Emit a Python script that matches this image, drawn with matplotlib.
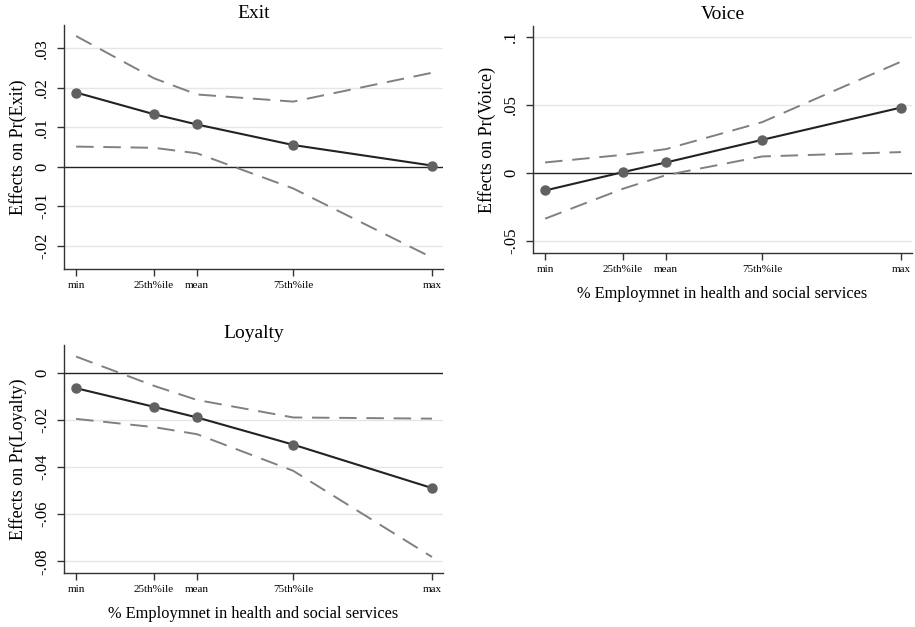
import matplotlib.pyplot as plt
import numpy as np

# x positions of the evaluation points (relative scale, min=0, max=1)
x_pos = [0.0, 0.219, 0.340, 0.610, 1.0]
x_labels = ['min', '25th%ile', 'mean', '75th%ile', 'max']

exit_eff = [0.0188, 0.0133, 0.0107, 0.0055, 0.0003]
exit_hi = [0.0331, 0.0224, 0.0183, 0.0165, 0.0238]
exit_lo = [0.0051, 0.0048, 0.0034, -0.0055, -0.0230]

voice_eff = [-0.0128, 0.0007, 0.0078, 0.0244, 0.0481]
voice_hi = [0.0078, 0.0134, 0.0176, 0.0374, 0.0818]
voice_lo = [-0.0335, -0.0115, -0.0015, 0.0122, 0.0154]

loyal_eff = [-0.0066, -0.0145, -0.0190, -0.0305, -0.0489]
loyal_hi = [0.0068, -0.0056, -0.0116, -0.0190, -0.0195]
loyal_lo = [-0.0196, -0.0231, -0.0261, -0.0416, -0.0781]

plt.rcParams['font.family'] = 'Liberation Serif'

W, H = 915, 627
fig = plt.figure(figsize=(W / 100, H / 100), dpi=100)


def box(l, t, r, b):
    return [l / W, 1 - b / H, (r - l) / W, (b - t) / H]


def fmt(v):
    s = ('%g' % v)
    return s.replace('0.', '.')


def panel(rect, title, ylab, eff, hi, lo, yticks, ylim, xlab=None):
    ax = fig.add_axes(rect)
    ax.set_xlim(-0.034, 1.031)
    ax.set_ylim(*ylim)
    for yv in yticks:
        if yv != 0:
            ax.axhline(yv, color='#e6e6e6', lw=1.0, zorder=0)
    ax.axhline(0, color='#222222', lw=1.0, zorder=1)
    ax.plot(x_pos, hi, color='#808080', lw=1.4, dashes=(9, 5), zorder=2)
    ax.plot(x_pos, lo, color='#808080', lw=1.4, dashes=(9, 5), zorder=2)
    ax.plot(x_pos, eff, color='#222222', lw=1.5, zorder=3)
    ax.plot(x_pos, eff, 'o', color='#616161', ms=6.5, zorder=4)
    ax.set_yticks(yticks)
    ax.set_yticklabels([fmt(v) for v in yticks], rotation=90, va='center', fontsize=12)
    ax.set_xticks(x_pos)
    ax.set_xticklabels(x_labels, fontsize=8)
    ax.tick_params(axis='both', direction='out', length=5, width=1, color='#333333')
    ax.tick_params(axis='x', pad=4)
    ax.tick_params(axis='y', pad=5)
    for s in ['top', 'right']:
        ax.spines[s].set_visible(False)
    for s in ['left', 'bottom']:
        ax.spines[s].set_color('#333333')
        ax.spines[s].set_linewidth(1.0)
    ax.set_title(title, fontsize=14, pad=5)
    ax.set_ylabel(ylab, fontsize=13, labelpad=5)
    if xlab:
        ax.set_xlabel(xlab, fontsize=11.8, labelpad=8)
    return ax


panel(box(64, 25, 443, 269), 'Exit', 'Effects on Pr(Exit)',
      exit_eff, exit_hi, exit_lo,
      [-0.02, -0.01, 0, 0.01, 0.02, 0.03], (-0.0259, 0.0359))
panel(box(533, 26, 912, 253), 'Voice', 'Effects on Pr(Voice)',
      voice_eff, voice_hi, voice_lo,
      [-0.05, 0, 0.05, 0.1], (-0.0587, 0.108),
      xlab='% Employmnet in health and social services')
panel(box(64, 345, 443, 573), 'Loyalty', 'Effects on Pr(Loyalty)',
      loyal_eff, loyal_hi, loyal_lo,
      [-0.08, -0.06, -0.04, -0.02, 0], (-0.0849, 0.0117),
      xlab='% Employmnet in health and social services')

fig.savefig('out.png', dpi=100, facecolor='white')
